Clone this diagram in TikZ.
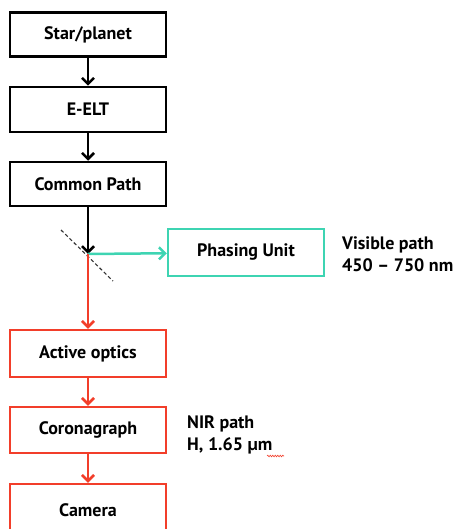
\documentclass[tikz,border=0pt]{standalone}
\usepackage{fontspec}
\setmainfont{PT Sans}
\usetikzlibrary{arrows.meta,decorations.pathmorphing}
\definecolor{redc}{RGB}{242,62,42}
\definecolor{tealc}{RGB}{62,212,178}
\begin{document}
\begin{tikzpicture}[x=1pt,y=-1pt,
  box/.style={draw,line width=2.5pt,minimum width=156pt,inner sep=0pt,font=\bfseries\fontsize{18}{20}\selectfont},
  arr/.style={line width=2.5pt,-{Straight Barb[length=6pt,width=12pt,line width=2.5pt]}},
  lbl/.style={anchor=north west,align=left,inner sep=0pt,font=\bfseries\fontsize{18}{22}\selectfont}]
\useasboundingbox (0,0) rectangle (460,529);
\clip (0,0) rectangle (460,529);
\node[box,minimum height=44pt] (star) at (88,34.5) {Star/planet};
\node[box,minimum height=45pt] (eelt) at (88,109.5) {E-ELT};
\node[box,minimum height=44pt] (common) at (88,184) {Common Path};
\coordinate (split) at (88,254);
\draw[line width=1.1pt,dash pattern=on 3.5pt off 2.5pt,black!80] (61,230) -- (113,281);
\node[box,draw=tealc,minimum height=47pt] (phase) at (246,252.5) {Phasing Unit};
\node[box,draw=redc,minimum height=47pt] (active) at (88,353.5) {Active optics};
\node[box,draw=redc,minimum height=46pt] (corona) at (88,430) {Coronagraph};
\node[box,draw=redc,minimum height=52pt] (camera) at (88,510) {Camera};
\draw[arr] (star) -- (eelt);
\draw[arr] (eelt) -- (common);
\draw[arr] (common) -- (split);
\draw[arr,tealc] (split) -- (phase);
\draw[arr,redc] (split) -- (active);
\draw[arr,redc] (active) -- (corona);
\draw[arr,redc] (corona) -- (camera);
\node[lbl] (vis) at (342,237) {Visible path\\450 -- 750 nm};
\node[lbl] (nir) at (187,416) {NIR path\\H, 1.65 µm};
\coordinate (sq1) at (267,456);
\coordinate (sq2) at (284,456);
\draw[redc,line width=0.6pt,decorate,decoration={snake,amplitude=0.8pt,segment length=2.5pt}] (sq1) -- (sq2);
\end{tikzpicture}
\end{document}
